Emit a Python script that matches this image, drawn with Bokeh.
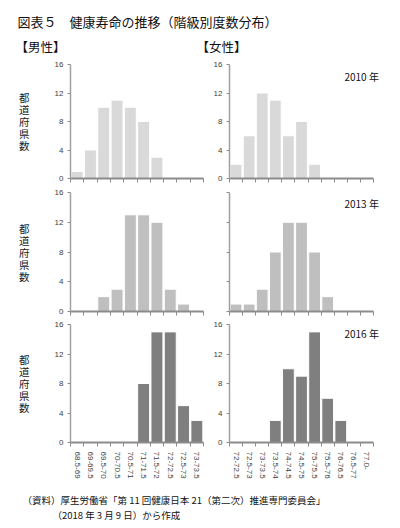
from bokeh.plotting import figure
from bokeh.layouts import column, row
from bokeh.models import Range1d, Label, FixedTicker, ColumnDataSource
from bokeh.embed import file_html
from bokeh.resources import INLINE

# ---- data ----
male_classes = ["68.5-69", "69-69.5", "69.5-70", "70-70.5", "70.5-71",
                "71-71.5", "71.5-72", "72-72.5", "72.5-73", "73-73.5"]
female_classes = ["72-72.5", "72.5-73", "73-73.5", "73.5-74", "74-74.5", "74.5-75",
                  "75-75.5", "75.5-76", "76-76.5", "76.5-77", "77.0-"]
years = ["2010", "2013", "2016"]
male_2010 = [1, 4, 10, 11, 10, 8, 3, 0, 0, 0]
male_2013 = [0, 0, 2, 3, 13, 13, 12, 3, 1, 0]
male_2016 = [0, 0, 0, 0, 0, 8, 15, 15, 5, 3]
female_2010 = [2, 6, 12, 11, 6, 8, 2, 0, 0, 0, 0]
female_2013 = [1, 1, 3, 8, 12, 12, 8, 2, 0, 0, 0]
female_2016 = [0, 0, 0, 3, 10, 9, 15, 6, 3, 0, 0]
y_ticks = [0, 4, 8, 12, 16]
y_max = 16
bar_colors = ["#d9d9d9", "#bfbfbf", "#7f7f7f"]

title_text = "図表５　健康寿命の推移（階級別度数分布）"
male_head = "【男性】"
female_head = "【女性】"
y_title = "都道府県数"
note1 = "（資料）厚生労働省「第 11 回健康日本 21（第二次）推進専門委員会」"
note2 = "（2018 年 3 月 9 日）から作成"

JP = "Noto Sans CJK JP"
NUM = "Liberation Sans"


def panel(classes, counts, color, width, height, bl, br, bt, bb,
          y_labels, x_labels, ylab=None, year=None, year_y=14.5, x_extra=0.0):
    n = len(classes)
    centers = [i + 0.5 for i in range(n)]
    bounds = list(range(n + 1))
    src = ColumnDataSource(dict(x=centers, top=counts))
    p = figure(width=width, height=height, x_range=Range1d(0, n + x_extra),
               y_range=Range1d(0, y_max), output_backend="svg",
               toolbar_location=None, min_border_left=bl, min_border_right=br,
               min_border_top=bt, min_border_bottom=bb)
    p.vbar(x="x", top="top", width=0.9, source=src, fill_color=color,
           line_color="white", line_width=1)
    p.grid.visible = False
    p.outline_line_color = None
    p.background_fill_color = "white"
    p.border_fill_color = "white"

    xa = p.xaxis[0]
    xa.bounds = (0, n)
    xa.major_tick_line_color = None
    xa.minor_tick_out = 4
    xa.minor_tick_in = 0
    xa.minor_tick_line_color = "#8c8c8c"
    xa.axis_line_color = "#8c8c8c"
    xa.axis_line_width = 2
    if x_labels:
        xa.ticker = FixedTicker(ticks=centers, minor_ticks=bounds)
        xa.major_label_overrides = {c: lab for c, lab in zip(centers, classes)}
        xa.major_label_orientation = "vertical"
        xa.major_label_text_font = NUM
        xa.major_label_text_color = "#404040"
        xa.major_label_text_font_size = "8px"
        xa.major_label_standoff = 3
    else:
        xa.ticker = FixedTicker(ticks=[], minor_ticks=bounds)
        xa.major_label_standoff = 0

    ya = p.yaxis[0]
    ya.axis_line_color = "#a0a0a0"
    ya.axis_line_width = 1.5
    if y_labels:
        ya.ticker = FixedTicker(ticks=y_ticks, minor_ticks=[])
        ya.major_tick_out = 3
        ya.major_tick_in = 0
        ya.major_tick_line_color = "#8c8c8c"
        ya.major_label_text_font = NUM
        ya.major_label_text_color = "#404040"
        ya.major_label_standoff = 4
        ya.major_label_text_font_size = "8px"
    else:
        ya.ticker = FixedTicker(ticks=[], minor_ticks=y_ticks)
        ya.minor_tick_out = 3
        ya.minor_tick_in = 0
        ya.minor_tick_line_color = "#8c8c8c"
    if ylab:
        ya.axis_label = "\n".join(list(ylab))
        ya.axis_label_orientation = "horizontal"
        ya.axis_label_text_font = JP
        ya.axis_label_text_font_style = "normal"
        ya.axis_label_text_font_size = "10.5px"
        ya.axis_label_text_color = "#222222"
        ya.axis_label_text_line_height = 0.8
        ya.axis_label_standoff = 22
    if year:
        p.add_layout(Label(x=8.78, y=year_y, text=year + " 年", text_font=JP,
                           text_font_size="10px", text_baseline="middle",
                           text_color="#111111"))
    return p


def text_fig(width, height, items):
    p = figure(width=width, height=height, x_range=Range1d(0, width),
               y_range=Range1d(height, 0), output_backend="svg",
               toolbar_location=None, x_axis_location=None, y_axis_location=None,
               min_border=0)
    p.grid.visible = False
    p.outline_line_color = None
    for (x, y, t, size) in items:
        p.add_layout(Label(x=x, y=y, text=t, text_font=JP, text_font_size=size,
                           text_baseline="middle", text_align="left",
                           text_color="#111111"))
    return p


header = text_fig(398, 55, [(17, 21, title_text, "13px"),
                            (15, 46, male_head, "12.5px"),
                            (196, 46, female_head, "12.5px")])

MW, FW = 208, 190
m1 = panel(male_classes, male_2010, bar_colors[0], MW, 130, 70, 5, 9, 7,
           True, False, ylab=y_title)
f1 = panel(female_classes, female_2010, bar_colors[0], FW, 130, 21, 17, 5, 5,
           True, False, year=years[0], year_y=14.3, x_extra=0.61)
m2 = panel(male_classes, male_2013, bar_colors[1], MW, 131, 70, 5, 6, 5,
           True, False, ylab=y_title)
f2 = panel(female_classes, female_2013, bar_colors[1], FW, 131, 21, 17, 7, 5,
           False, False, year=years[1], year_y=14.5, x_extra=0.61)
m3 = panel(male_classes, male_2016, bar_colors[2], MW, 166, 70, 5, 6, 40,
           True, True, ylab=y_title)
f3 = panel(female_classes, female_2016, bar_colors[2], FW, 166, 21, 17, 8, 38,
           True, True, year=years[2], year_y=14.8, x_extra=0.61)

footer = text_fig(398, 44, [(22, 17, note1, "9.5px"),
                            (52, 32.5, note2, "9.5px")])

layout = column(header, row(m1, f1), row(m2, f2), row(m3, f3), footer)

open("out.html", "w").write(file_html(layout, INLINE))
